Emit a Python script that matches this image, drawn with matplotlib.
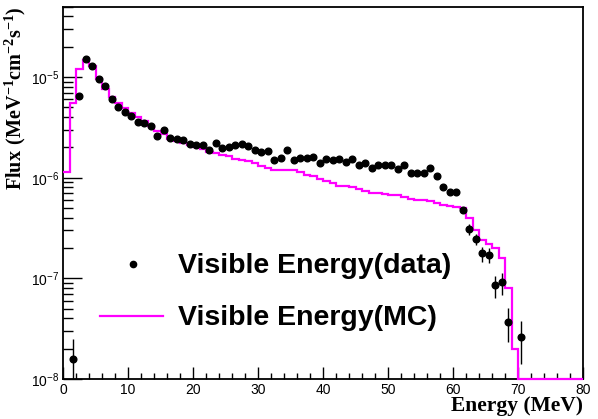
import numpy as np
import matplotlib
matplotlib.use("Agg")
import matplotlib.pyplot as plt
from matplotlib.ticker import FuncFormatter, MultipleLocator, LogLocator, NullFormatter
from matplotlib.lines import Line2D

plt.rcParams['font.family'] = ['Liberation Sans', 'DejaVu Sans']
plt.rcParams['mathtext.fontset'] = 'custom'
plt.rcParams['mathtext.rm'] = 'Liberation Serif:bold'
plt.rcParams['mathtext.bf'] = 'Liberation Serif:bold'
plt.rcParams['mathtext.sf'] = 'Liberation Sans'

# ---- data (visible energy, data points) ----
data_energy = [1.5, 2.5, 3.5, 4.5, 5.5, 6.5, 7.5, 8.5, 9.5, 10.5,
               11.5, 12.5, 13.5, 14.5, 15.5, 16.5, 17.5, 18.5, 19.5, 20.5,
               21.5, 22.5, 23.5, 24.5, 25.5, 26.5, 27.5, 28.5, 29.5, 30.5,
               31.5, 32.5, 33.5, 34.5, 35.5, 36.5, 37.5, 38.5, 39.5, 40.5,
               41.5, 42.5, 43.5, 44.5, 45.5, 46.5, 47.5, 48.5, 49.5, 50.5,
               51.5, 52.5, 53.5, 54.5, 55.5, 56.5, 57.5, 58.5, 59.5, 60.5,
               61.5, 62.5, 63.5, 64.5, 65.5, 66.5, 67.5, 68.5, 70.5]
data_flux = [1.58e-8, 6.5e-6, 1.52e-5, 1.29e-5, 9.6e-6, 8.2e-6, 6.0e-6, 5.06e-6, 4.51e-6, 4.14e-6,
             3.61e-6, 3.53e-6, 3.25e-6, 2.62e-6, 3.0e-6, 2.5e-6, 2.45e-6, 2.36e-6, 2.18e-6, 2.1e-6,
             2.1e-6, 1.9e-6, 2.23e-6, 1.98e-6, 2.0e-6, 2.1e-6, 2.14e-6, 2.07e-6, 1.89e-6, 1.82e-6,
             1.86e-6, 1.49e-6, 1.56e-6, 1.89e-6, 1.51e-6, 1.56e-6, 1.56e-6, 1.62e-6, 1.39e-6, 1.53e-6,
             1.50e-6, 1.55e-6, 1.43e-6, 1.53e-6, 1.34e-6, 1.39e-6, 1.26e-6, 1.33e-6, 1.33e-6, 1.33e-6,
             1.22e-6, 1.35e-6, 1.12e-6, 1.12e-6, 1.11e-6, 1.26e-6, 1.03e-6, 8.0e-7, 7.2e-7, 7.2e-7,
             4.8e-7, 3.08e-7, 2.46e-7, 1.77e-7, 1.71e-7, 8.5e-8, 9.1e-8, 3.7e-8, 2.6e-8]
data_err = [9e-9, 1e-7, 2e-7, 2e-7, 1.5e-7, 1.3e-7, 1e-7, 9e-8, 8e-8, 8e-8,
            7e-8, 7e-8, 6e-8, 5e-8, 6e-8, 5e-8, 5e-8, 5e-8, 5e-8, 5e-8,
            5e-8, 5e-8, 5e-8, 5e-8, 5e-8, 5e-8, 5e-8, 5e-8, 5e-8, 5e-8,
            5e-8, 4e-8, 4e-8, 5e-8, 4e-8, 4e-8, 4e-8, 4e-8, 4e-8, 4e-8,
            4e-8, 4e-8, 4e-8, 4e-8, 4e-8, 4e-8, 4e-8, 4e-8, 4e-8, 4e-8,
            4e-8, 4e-8, 3.5e-8, 3.5e-8, 3.5e-8, 3.5e-8, 3.5e-8, 3e-8, 3e-8, 3e-8,
            1.7e-8, 3.7e-8, 3e-8, 3e-8, 3e-8, 2.1e-8, 2.2e-8, 1.35e-8, 1.2e-8]

# ---- MC histogram (1 MeV bins, 0-80 MeV) ----
mc_edges = list(range(0, 81))
mc_flux = [1.15e-6, 5.5e-6, 1.21e-5, 1.48e-5, 1.30e-5, 9.5e-6, 7.6e-6, 6.3e-6, 5.5e-6, 4.9e-6,
           4.44e-6, 3.99e-6, 3.63e-6, 3.3e-6, 2.94e-6, 2.72e-6, 2.45e-6, 2.3e-6, 2.2e-6, 2.1e-6,
           2.0e-6, 1.92e-6, 1.82e-6, 1.75e-6, 1.69e-6, 1.63e-6, 1.53e-6, 1.5e-6, 1.45e-6, 1.41e-6,
           1.31e-6, 1.25e-6, 1.2e-6, 1.2e-6, 1.2e-6, 1.2e-6, 1.13e-6, 1.06e-6, 1.03e-6, 9.7e-7,
           9.3e-7, 8.8e-7, 8.3e-7, 8.2e-7, 8.1e-7, 7.8e-7, 7.4e-7, 7.1e-7, 7.0e-7, 6.9e-7,
           6.8e-7, 6.7e-7, 6.4e-7, 6.2e-7, 6.0e-7, 5.95e-7, 5.85e-7, 5.6e-7, 5.4e-7, 5.25e-7,
           5.15e-7, 5.0e-7, 3.95e-7, 3.03e-7, 2.41e-7, 2.2e-7, 2.02e-7, 1.61e-7, 8.1e-8, 2.0e-8,
           0, 0, 0, 0, 0, 0, 0, 0, 0, 0]

x_min, x_max = 0, 80
y_min, y_max = 1e-8, 5e-5

fig = plt.figure(figsize=(5.98, 4.19), dpi=100)
ax = fig.add_axes([63/598, 1-379/419, 520/598, (379-6.7)/419])
ax.set_yscale('log')
ax.set_xlim(x_min, x_max)
ax.set_ylim(y_min, y_max)

mc_plot = np.clip(np.array(mc_flux), y_min, None)
ax.stairs(mc_plot, mc_edges, baseline=None, color='#ff00ff', linewidth=1.6,
          zorder=3, clip_on=False)

ax.errorbar(data_energy, data_flux, yerr=data_err, fmt='o', color='black',
            markersize=4.8, elinewidth=1.0, capsize=0, zorder=4)

# ticks
ax.xaxis.set_major_locator(MultipleLocator(10))
ax.xaxis.set_minor_locator(MultipleLocator(2))
ax.yaxis.set_major_locator(LogLocator(base=10, numticks=20))
ax.yaxis.set_minor_locator(LogLocator(base=10, subs=np.arange(2, 10), numticks=50))
ax.yaxis.set_minor_formatter(NullFormatter())
ax.yaxis.set_major_formatter(FuncFormatter(
    lambda v, p: r'$\mathsf{10^{%d}}$' % int(round(np.log10(v)))))
ax.tick_params(axis='both', which='both', direction='in', top=False, right=False,
               colors='black', labelsize=10)
ax.tick_params(axis='y', which='major', length=14, width=1, pad=3)
ax.tick_params(axis='y', which='minor', length=7, width=1)
ax.tick_params(axis='x', which='major', length=9, width=1, pad=3)
ax.tick_params(axis='x', which='minor', length=4.5, width=1)
for s in ax.spines.values():
    s.set_linewidth(1.3)
    s.set_color('black')

ax.set_xlabel('Energy (MeV)', family='Liberation Serif', fontweight='bold',
              fontsize=15.5, loc='right', labelpad=-1)
ax.set_ylabel(r'$\mathbf{Flux\ (MeV^{-1}cm^{-2}s^{-1})}$', fontsize=14.5,
              loc='top', labelpad=2)

# legend
lx0 = (100-63)/520
lx1 = (163-63)/520
ax.add_line(Line2D([(133-63)/520], [1-(264-6.7)/372.3], transform=ax.transAxes,
                   marker='o', color='black', markersize=4.5, linestyle='none'))
ax.add_line(Line2D([lx0, lx1], [1-(316-6.7)/372.3]*2, transform=ax.transAxes,
                   color='#ff00ff', linewidth=1.6))
ax.text((178-63)/520, 1-(266-6.7)/372.3, 'Visible Energy(data)', transform=ax.transAxes,
        fontsize=20.5, fontweight='bold', va='center', ha='left')
ax.text((178-63)/520, 1-(318-6.7)/372.3, 'Visible Energy(MC)', transform=ax.transAxes,
        fontsize=20.5, fontweight='bold', va='center', ha='left')

fig.savefig('out.png', dpi=100)
